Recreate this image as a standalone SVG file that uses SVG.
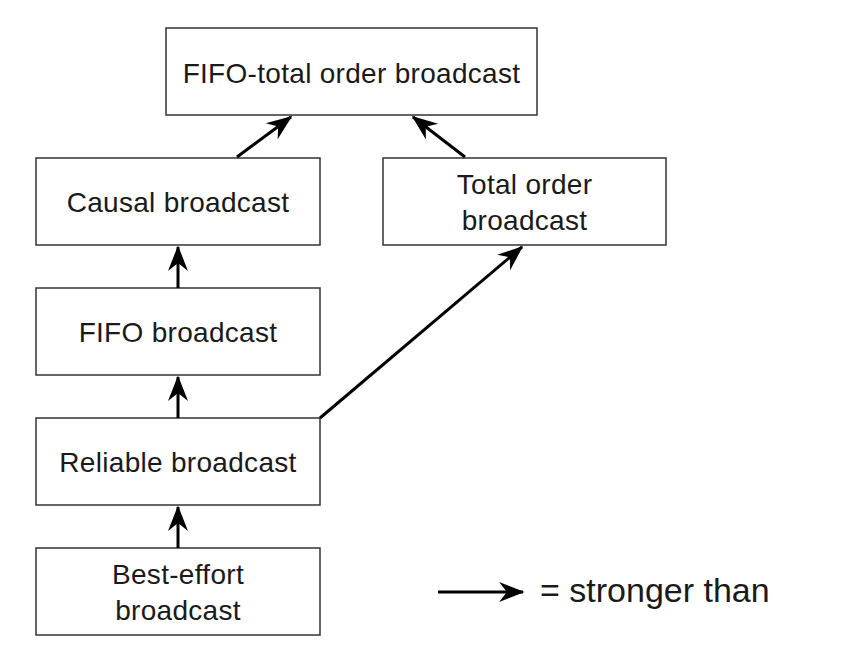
<svg xmlns="http://www.w3.org/2000/svg" width="857" height="652" viewBox="0 0 857 652">
<defs>
<style>
.box{fill:#fff;stroke:#333;stroke-width:1.5}
.t{font-family:"Liberation Sans",Arial,sans-serif;font-size:28px;fill:#1a1a1a;text-anchor:middle;letter-spacing:0.3px}
.c{stroke:#000;stroke-width:3;fill:none;marker-end:url(#ah)}
</style>
<marker id="ah" markerUnits="userSpaceOnUse" viewBox="-26 -12 28 24" refX="0" refY="0" markerWidth="28" markerHeight="24" orient="auto">
<path d="M1.5,0 L-24,-10 L-16,0 L-24,10 Z" fill="#000"/>
</marker>
</defs>
<rect width="857" height="652" fill="#fff"/>
<g id="fifo-total"><rect class="box" x="166" y="28" width="371" height="87"/><text class="t" x="351.5" y="83">FIFO-total order broadcast</text></g>
<g id="causal"><rect class="box" x="36" y="158" width="284" height="87"/><text class="t" x="178" y="212">Causal broadcast</text></g>
<g id="total"><rect class="box" x="383" y="158" width="283" height="87"/><text class="t" x="524.5" y="194">Total order</text><text class="t" x="524.5" y="230">broadcast</text></g>
<g id="fifo"><rect class="box" x="36" y="288" width="284" height="87"/><text class="t" x="178" y="342">FIFO broadcast</text></g>
<g id="reliable"><rect class="box" x="36" y="418" width="284" height="87"/><text class="t" x="178" y="472">Reliable broadcast</text></g>
<g id="besteffort"><rect class="box" x="36" y="548" width="284" height="87"/><text class="t" x="178" y="584">Best-effort</text><text class="t" x="178" y="620">broadcast</text></g>
<g id="connectors">
<line class="c" x1="237" y1="157" x2="291" y2="117"/>
<line class="c" x1="465" y1="157" x2="413" y2="117"/>
<line class="c" x1="178" y1="288" x2="178" y2="247"/>
<line class="c" x1="178" y1="418" x2="178" y2="377"/>
<line class="c" x1="178" y1="548" x2="178" y2="507"/>
<line class="c" x1="320" y1="418" x2="522" y2="247"/>
</g>
<g id="legend">
<line class="c" x1="438" y1="592" x2="523" y2="592"/>
<text x="540" y="602" style="font-family:'Liberation Sans',Arial,sans-serif;font-size:34px;fill:#1a1a1a">= stronger than</text>
</g>
</svg>
